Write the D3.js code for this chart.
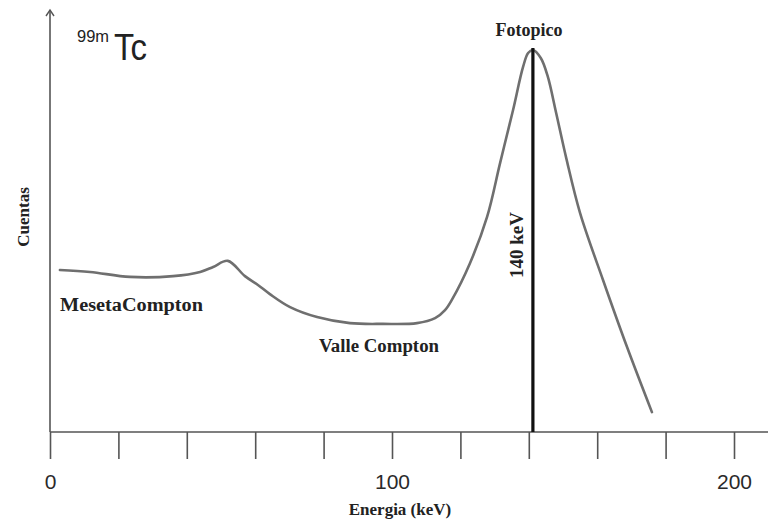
<!DOCTYPE html>
<html>
<head>
<meta charset="utf-8">
<script src="https://cdn.jsdelivr.net/npm/d3@7"></script>
<style>
    body { margin: 0; background: #fff; }
    svg { display: block; }
    .serif { font-family: "Liberation Serif", "DejaVu Serif", serif; font-weight: bold; fill: #222; }
</style>
</head>
<body>
<svg id="chart" width="768" height="523"></svg>
<script>
// spectrum (keV, relative counts)
const energy = [2.9, 11.7, 23.4, 36.0, 43.9, 47.7, 52.0, 57.0, 60.8, 64.3, 70.2, 78.1, 87.7, 97.4, 107.3, 112.6, 115.5, 117.5, 122.8, 127.8, 131.6, 135.4, 138.3, 139.8, 141.2, 143.5, 145.5, 148.0, 151.0, 155.0, 161.7, 168.7, 176.0];
const counts = [42.4, 41.9, 40.6, 40.8, 41.9, 43.2, 44.8, 40.8, 38.5, 36.1, 32.7, 30.1, 28.5, 28.3, 28.5, 29.8, 31.9, 34.6, 44.2, 56.3, 70.4, 84.3, 95.5, 99.2, 100, 97.9, 93.2, 83.5, 71.5, 57.3, 39.8, 22.3, 5.2];
const xTicks = [0, 20, 40, 60, 80, 100, 120, 140, 160, 180, 200];
const xLabels = [0, 100, 200];
const peakEnergy = 141.2;

const margin = { left: 50, top: 10, bottom: 432 };

const svg = d3.select('#chart');

const x = d3.scaleLinear()
    .domain([0, 200])
    .range([50, 734]);

const y = d3.scaleLinear()
    .domain([0, 100])
    .range([432, 50]);

// x axis
const xAxis = d3.axisBottom(x)
    .tickValues(xTicks)
    .tickSize(27)
    .tickPadding(15)
    .tickFormat(d => xLabels.includes(d) ? d : '');

const gx = svg.append('g')
    .attr('transform', `translate(0,${y(0)})`)
    .call(xAxis);

gx.select('.domain').remove();
gx.selectAll('.tick line')
    .attr('stroke', '#555')
    .attr('stroke-width', 1.6);
gx.selectAll('.tick text')
    .attr('fill', '#2a2a2a')
    .style('font-family', 'Arial, "Liberation Sans", sans-serif')
    .style('font-size', '21px');

svg.append('line')
    .attr('x1', x(0)).attr('x2', 768)
    .attr('y1', y(0)).attr('y2', y(0))
    .attr('stroke', '#555')
    .attr('stroke-width', 1.6);

// y axis with open arrow
svg.append('line')
    .attr('x1', x(0)).attr('x2', x(0))
    .attr('y1', margin.top).attr('y2', y(0))
    .attr('stroke', '#555')
    .attr('stroke-width', 1.6);

svg.append('path')
    .attr('d', `M${x(0) - 4},${margin.top + 6}L${x(0)},${margin.top}L${x(0) + 4},${margin.top + 6}`)
    .attr('fill', 'none')
    .attr('stroke', '#555')
    .attr('stroke-width', 1.4);

// spectrum
const line = d3.line()
    .x((d, i) => x(energy[i]))
    .y(d => y(d))
    .curve(d3.curveCatmullRom.alpha(0.5));

svg.append('path')
    .attr('d', line(counts))
    .attr('fill', 'none')
    .attr('stroke', '#6f6f6f')
    .attr('stroke-width', 2.6)
    .attr('stroke-linecap', 'round');

// photopeak marker
svg.append('line')
    .attr('x1', x(peakEnergy)).attr('x2', x(peakEnergy))
    .attr('y1', y(100) - 2).attr('y2', y(0))
    .attr('stroke', '#111')
    .attr('stroke-width', 3.2);

// labels
svg.append('text')
    .attr('x', 77).attr('y', 42)
    .style('font-family', 'Arial, "Liberation Sans", sans-serif')
    .style('font-size', '16px')
    .attr('fill', '#222')
    .attr('textLength', 32)
    .attr('lengthAdjust', 'spacingAndGlyphs')
    .text('99m');

svg.append('text')
    .attr('x', 114).attr('y', 60)
    .style('font-family', 'Arial, "Liberation Sans", sans-serif')
    .style('font-size', '37px')
    .attr('fill', '#222')
    .attr('textLength', 33)
    .attr('lengthAdjust', 'spacingAndGlyphs')
    .text('Tc');

svg.append('text')
    .attr('class', 'serif')
    .attr('x', 529).attr('y', 36)
    .attr('text-anchor', 'middle')
    .style('font-size', '18px')
    .text('Fotopico');

svg.append('text')
    .attr('class', 'serif')
    .attr('transform', 'translate(29,217) rotate(-90)')
    .attr('text-anchor', 'middle')
    .style('font-size', '17px')
    .text('Cuentas');

svg.append('text')
    .attr('class', 'serif')
    .attr('x', 60).attr('y', 311)
    .style('font-size', '18px')
    .attr('textLength', 143)
    .attr('lengthAdjust', 'spacingAndGlyphs')
    .text('MesetaCompton');

svg.append('text')
    .attr('class', 'serif')
    .attr('x', 319).attr('y', 352)
    .style('font-size', '18px')
    .attr('textLength', 120)
    .attr('lengthAdjust', 'spacingAndGlyphs')
    .text('Valle Compton');

svg.append('text')
    .attr('class', 'serif')
    .attr('transform', 'translate(523,245) rotate(-90)')
    .attr('text-anchor', 'middle')
    .style('font-size', '19px')
    .text('140 keV');

svg.append('text')
    .attr('class', 'serif')
    .attr('x', 400).attr('y', 515)
    .attr('text-anchor', 'middle')
    .style('font-size', '17px')
    .text('Energia (keV)');
</script>
</body>
</html>
